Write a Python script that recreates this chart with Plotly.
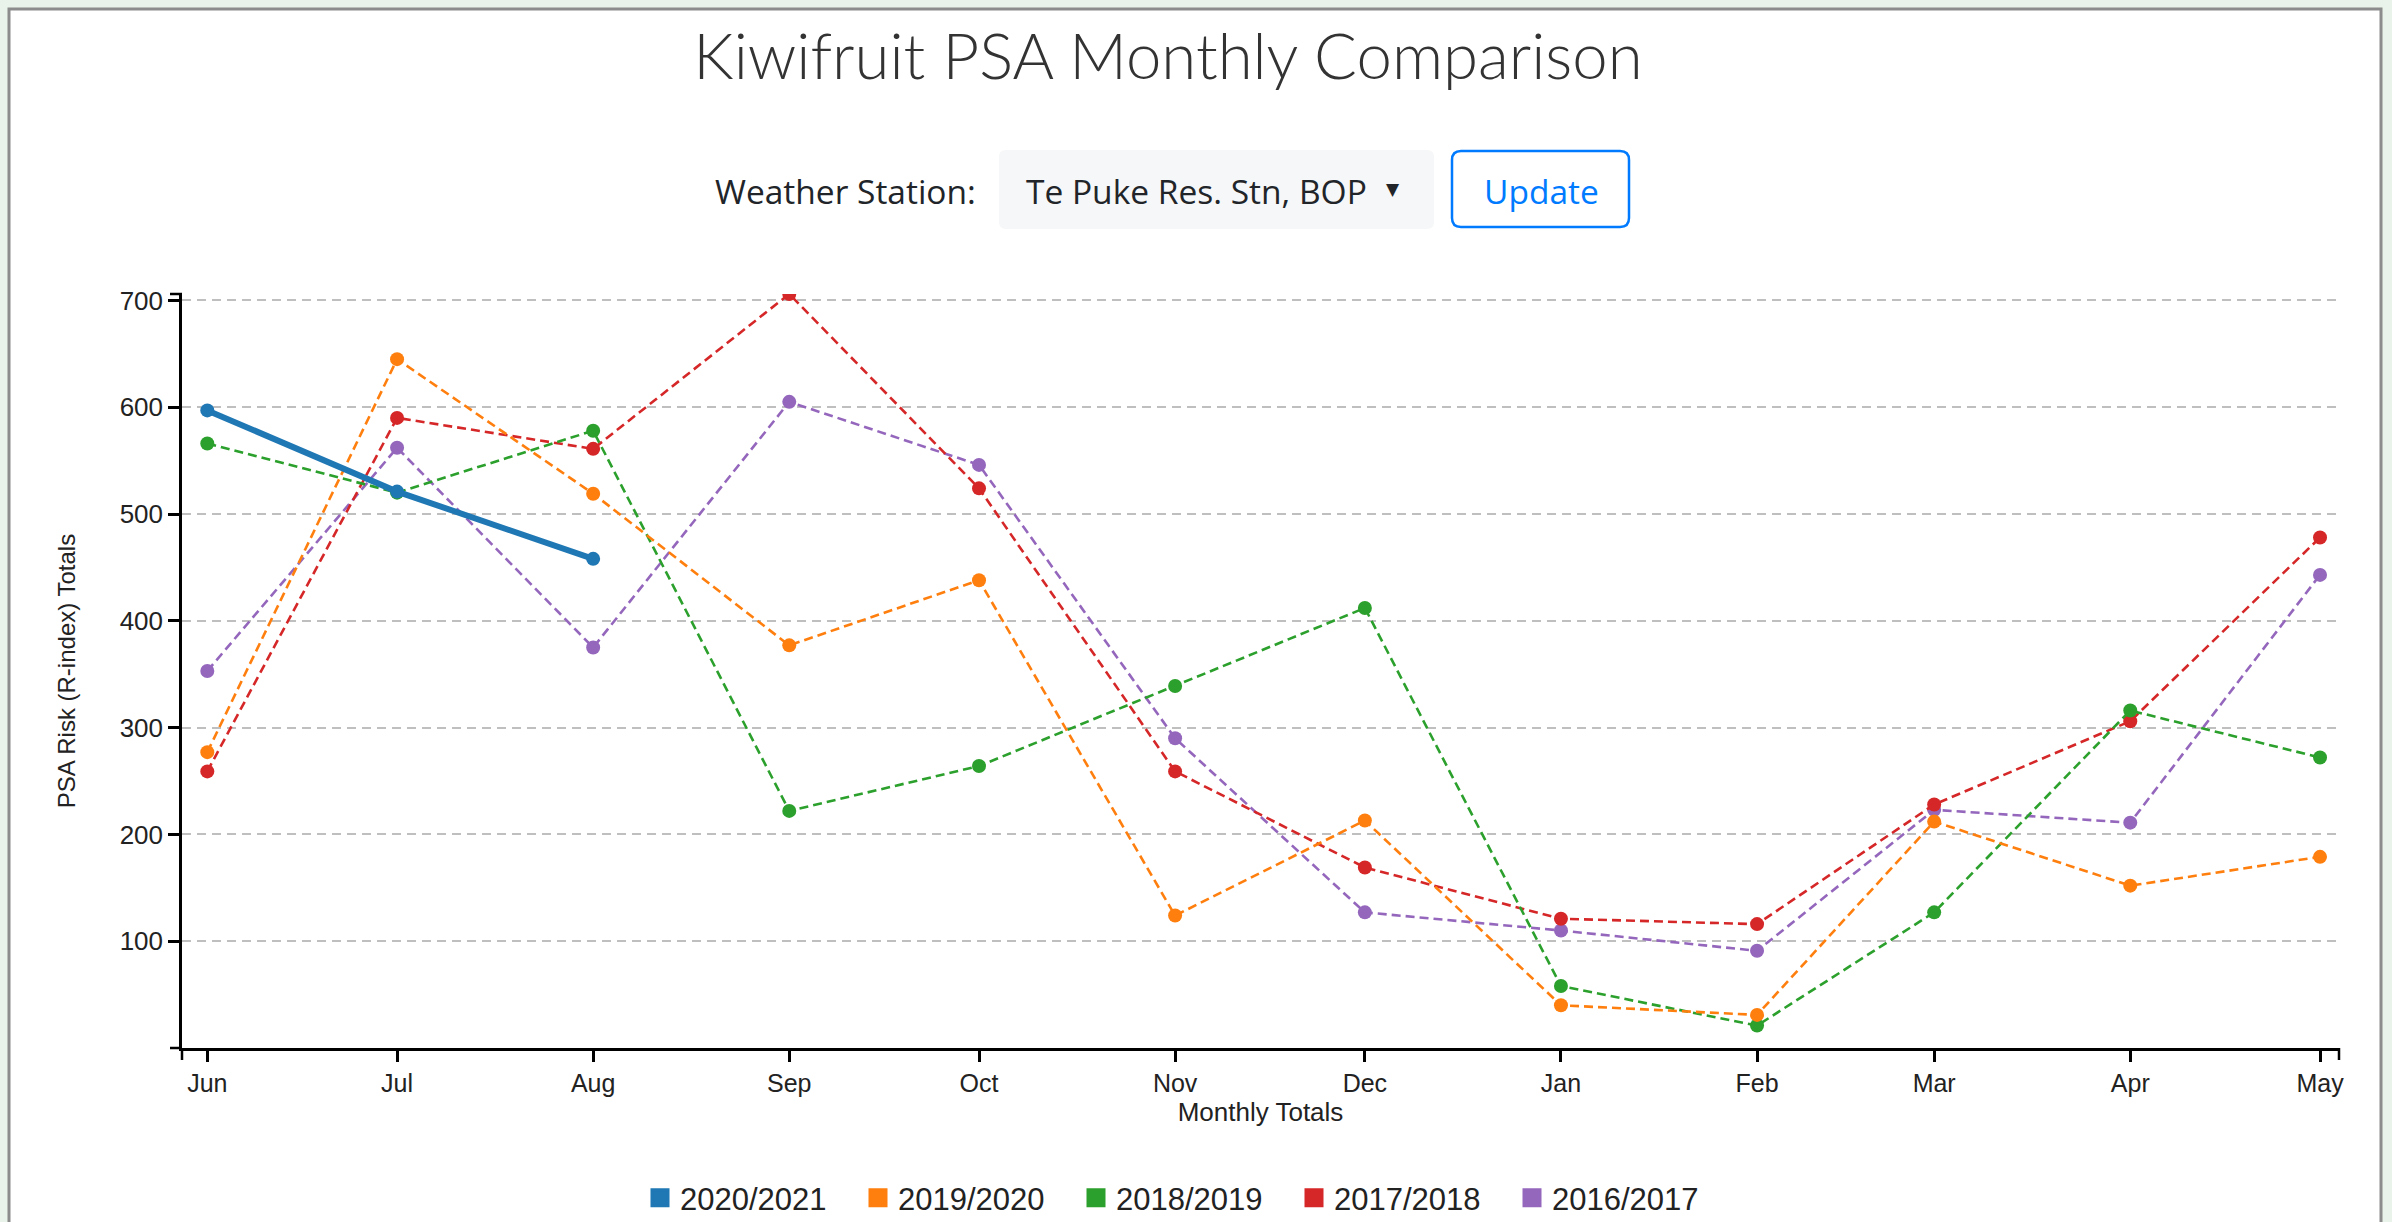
import plotly.graph_objects as go

# ---------------- data ----------------
months = ['Jun', 'Jul', 'Aug', 'Sep', 'Oct', 'Nov', 'Dec', 'Jan', 'Feb', 'Mar', 'Apr', 'May']
month_dates = ['2020-06-01', '2020-07-01', '2020-08-01', '2020-09-01', '2020-10-01', '2020-11-01',
               '2020-12-01', '2021-01-01', '2021-02-01', '2021-03-01', '2021-04-01', '2021-05-01']
season_names = ['2020/2021', '2019/2020', '2018/2019', '2017/2018', '2016/2017']
s_2020_2021 = [597, 521, 458]
s_2019_2020 = [277, 645, 519, 377, 438, 124, 213, 40, 31, 212, 152, 179]
s_2018_2019 = [566, 520, 578, 222, 264, 339, 412, 58, 21, 127, 316, 272]
s_2017_2018 = [259, 590, 561, 706, 524, 259, 169, 121, 116, 228, 306, 478]
s_2016_2017 = [353, 562, 375, 605, 546, 290, 127, 110, 91, 223, 211, 443]
y_ticks = [100, 200, 300, 400, 500, 600, 700]
y_max = 706

series = [s_2020_2021, s_2019_2020, s_2018_2019, s_2017_2018, s_2016_2017]
colors = ['#1f77b4', '#ff7f0e', '#2ca02c', '#d62728', '#9467bd']

# ---------------- layout geometry (pixels) ----------------
W, H = 2392, 1222
L, R, T, B = 182, 2339, 294, 1048


def px(x):
    return (x - L) / (R - L)


def py(y):
    return (B - y) / (B - T)


def rrect(x0, y0, x1, y1, r):
    X0, X1 = px(x0), px(x1)
    Y0, Y1 = py(y0), py(y1)
    rx = r / (R - L)
    ry = r / (B - T)
    return (f"M {X0 + rx},{Y0} L {X1 - rx},{Y0} Q {X1},{Y0} {X1},{Y0 - ry} "
            f"L {X1},{Y1 + ry} Q {X1},{Y1} {X1 - rx},{Y1} L {X0 + rx},{Y1} "
            f"Q {X0},{Y1} {X0},{Y1 + ry} L {X0},{Y0 - ry} Q {X0},{Y0} {X0 + rx},{Y0} Z")


fig = go.Figure()

# draw older seasons first, current season on top
for i in range(len(series) - 1, -1, -1):
    vals = series[i]
    current = (i == 0)
    fig.add_trace(go.Scatter(
        x=month_dates[:len(vals)], y=vals, name=season_names[i],
        mode='lines+markers',
        line=dict(color=colors[i], width=6 if current else 2.6,
                  dash='solid' if current else '9px,5px'),
        marker=dict(color=colors[i], size=14),
        showlegend=False, cliponaxis=True,
    ))

# legend entries (coloured squares)
for i, name in enumerate(season_names):
    fig.add_trace(go.Scatter(
        x=[None], y=[None], name=name, mode='markers',
        marker=dict(symbol='square', color=colors[i], size=16,
                    line=dict(color=colors[i], width=3)),
        showlegend=True,
    ))

TXT = '#212529'
CTRL_FONT = 'Open Sans'
CTRL_SIZE = 33.5
shapes = [
    # card
    dict(type='rect', xref='paper', yref='paper', x0=px(9), x1=px(2381), y0=py(1260), y1=py(9),
         fillcolor='white', line=dict(color='#8c8c8c', width=3), layer='below'),
    # dropdown
    dict(type='path', xref='paper', yref='paper', path=rrect(999, 150, 1434, 229, 7),
         fillcolor='#f6f7f8', line=dict(width=0), layer='below'),
    # update button
    dict(type='path', xref='paper', yref='paper', path=rrect(1452, 151, 1629, 227, 9),
         fillcolor='white', line=dict(color='#007bff', width=2.5), layer='below'),
    # d3-style outer ticks
    dict(type='line', xref='paper', yref='paper', xsizemode='pixel', xanchor=0, x0=-12, x1=0,
         y0=1, y1=1, line=dict(color='black', width=2.5)),
    dict(type='line', xref='paper', yref='paper', xsizemode='pixel', xanchor=0, x0=-12, x1=0,
         y0=0, y1=0, line=dict(color='black', width=2.5)),
    dict(type='line', xref='paper', yref='paper', ysizemode='pixel', yanchor=0, y0=0, y1=-12,
         x0=0, x1=0, line=dict(color='black', width=2.5)),
    dict(type='line', xref='paper', yref='paper', ysizemode='pixel', yanchor=0, y0=0, y1=-12,
         x0=1, x1=1, line=dict(color='black', width=2.5)),
]

annotations = [
    dict(text='Weather Station:', xref='paper', yref='paper', x=px(978), y=py(191),
         xanchor='right', yanchor='middle', showarrow=False,
         font=dict(family=CTRL_FONT, size=CTRL_SIZE, color=TXT)),
    dict(text='Te Puke Res. Stn, BOP', xref='paper', yref='paper', x=px(1024), y=py(191),
         xanchor='left', yanchor='middle', showarrow=False,
         font=dict(family=CTRL_FONT, size=CTRL_SIZE, color=TXT)),
    dict(text='▼', xref='paper', yref='paper', x=px(1393), y=py(189),
         xanchor='center', yanchor='middle', showarrow=False,
         font=dict(family='DejaVu Sans', size=17, color=TXT)),
    dict(text='Update', xref='paper', yref='paper', x=px(1541), y=py(191),
         xanchor='center', yanchor='middle', showarrow=False,
         font=dict(family=CTRL_FONT, size=CTRL_SIZE, color='#007bff')),
]

fig.update_layout(
    width=W, height=H,
    margin=dict(l=L, r=W - R, t=T, b=H - B, autoexpand=False),
    paper_bgcolor='#e9f3e9', plot_bgcolor='white',
    title=dict(text='Kiwifruit PSA Monthly Comparison', x=1168 / W, xref='container',
               y=1 - 57 / H, yref='container', xanchor='center', yanchor='middle',
               font=dict(family='Lato', size=63.5, weight=300, color='#333333')),
    shapes=shapes, annotations=annotations,
    showlegend=True,
    legend=dict(orientation='h', xref='container', yref='container',
                x=640 / W, y=1 - 1198 / H, xanchor='left', yanchor='middle',
                entrywidth=173, entrywidthmode='pixels',
                font=dict(family='Liberation Sans', size=31, color='#222222'),
                bgcolor='rgba(0,0,0,0)', itemclick=False),
    xaxis=dict(type='date', range=['2020-05-28', '2021-05-04'],
               tickmode='array', tickvals=month_dates, ticktext=months,
               showline=True, linecolor='black', linewidth=2.5,
               ticks='outside', ticklen=11, tickwidth=2.5, tickcolor='black',
               showgrid=False, zeroline=False,
               tickfont=dict(family='Liberation Sans', size=25, color='#222222'),
               title=dict(text='Monthly Totals', standoff=6,
                          font=dict(family='Liberation Sans', size=26, color='#222222'))),
    yaxis=dict(range=[0, y_max], tickmode='array', tickvals=y_ticks,
               showline=True, linecolor='black', linewidth=2.5,
               ticks='outside', ticklen=11, tickwidth=2.5, tickcolor='black',
               showgrid=True, gridcolor='#bfbfbf', gridwidth=2, griddash='9px,6px',
               zeroline=False,
               tickfont=dict(family='Liberation Sans', size=26, color='#222222'),
               title=dict(text='PSA Risk (R-index) Totals', standoff=38,
                          font=dict(family='Liberation Sans', size=24, color='#222222'))),
)

fig.write_html("out.html", config={'displayModeBar': False},
               post_script="document.body.style.margin='0';document.body.style.overflow='hidden';")
